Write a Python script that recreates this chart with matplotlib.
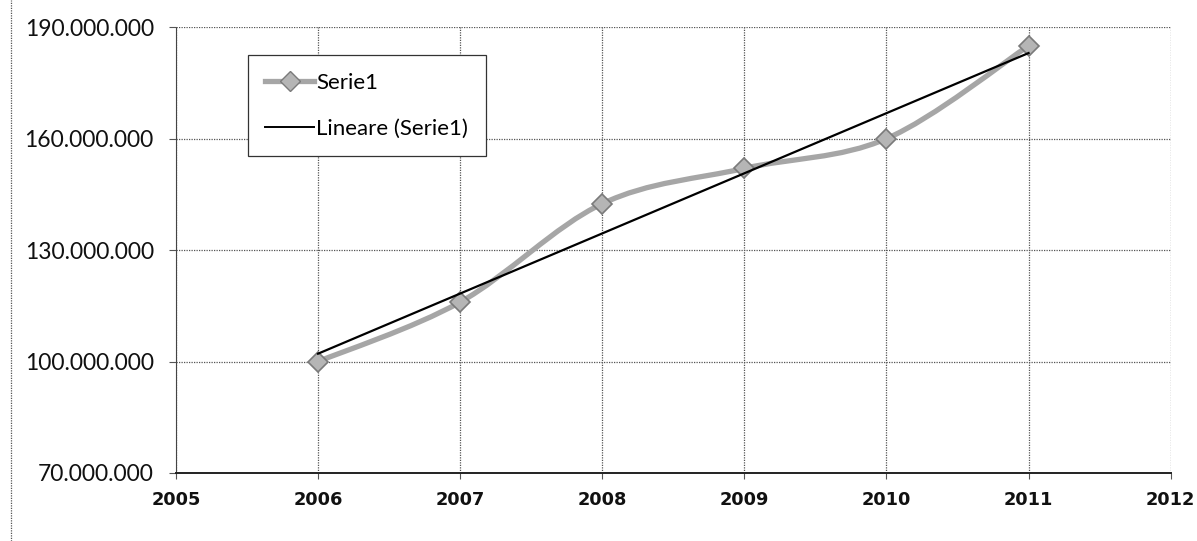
import numpy as np
import matplotlib.pyplot as plt
from matplotlib.path import Path
from matplotlib.patches import PathPatch
from matplotlib.lines import Line2D

# Series values
years = [2006, 2007, 2008, 2009, 2010, 2011]
serie1 = [100_000_000, 116_000_000, 142_500_000, 152_000_000, 160_000_000, 185_000_000]
y_ticks = [70_000_000, 100_000_000, 130_000_000, 160_000_000, 190_000_000]
x_ticks = [2005, 2006, 2007, 2008, 2009, 2010, 2011, 2012]

GRAY = '#a6a6a6'
EDGE = '#7a7a7a'


def smooth_path(xs, ys):
    # cubic Bezier segments through every point (spreadsheet-style smoothed line)
    pts = np.column_stack([xs, ys]).astype(float)
    ext = np.vstack([pts[0], pts, pts[-1]])
    verts = [tuple(pts[0])]
    codes = [Path.MOVETO]
    for i in range(len(pts) - 1):
        p0, p1, p2, p3 = ext[i], ext[i + 1], ext[i + 2], ext[i + 3]
        c1 = p1 + (p2 - p0) / 6
        c2 = p2 - (p3 - p1) / 6
        verts += [tuple(c1), tuple(c2), tuple(p2)]
        codes += [Path.CURVE4] * 3
    return Path(verts, codes)


fig = plt.figure(figsize=(11.97, 5.41), dpi=100)
ax = fig.add_axes([0.147, 0.1257, 0.831, 0.824])

# smoothed data line + diamond markers
patch = PathPatch(smooth_path(years, serie1), facecolor='none', edgecolor=GRAY,
                  lw=3.8, zorder=3, capstyle='round', joinstyle='round')
ax.add_patch(patch)
ax.plot(years, serie1, linestyle='none', marker='D', markersize=10,
        markerfacecolor='#b5b5b5', markeredgecolor=EDGE, markeredgewidth=1.2, zorder=4)

# linear trend line
slope, intercept = np.polyfit(years, serie1, 1)
trend = np.polyval([slope, intercept], years)
ax.plot(years, trend, color='black', lw=1.6, zorder=5)

ax.set_xlim(2005, 2012)
ax.set_ylim(70_000_000, 190_000_000)
ax.set_xticks(x_ticks)
ax.set_yticks(y_ticks)
ax.set_yticklabels([f'{v:,}'.replace(',', '.') for v in y_ticks],
                   fontfamily='Lato', fontsize=16.5, color='#111111')
ax.set_xticklabels([str(x) for x in x_ticks], fontfamily='DejaVu Sans',
                   fontweight='bold', fontsize=12.8, color='#111111')
ax.tick_params(axis='y', length=5, width=0.8, color='#555555', pad=11)
ax.tick_params(axis='x', length=4, width=0.8, color='#555555', pad=9)

ax.grid(True, color='#555555', linestyle=(0, (1, 1)), lw=0.9)
ax.set_axisbelow(True)
for side in ['top', 'right']:
    ax.spines[side].set_visible(False)
ax.spines['left'].set_linestyle((0, (1, 1)))
ax.spines['left'].set_color('#444444')
ax.spines['bottom'].set_color('#222222')
ax.spines['bottom'].set_linewidth(1.4)

handles = [
    Line2D([], [], color=GRAY, lw=3.8, marker='D', markersize=10,
           markerfacecolor='#b5b5b5', markeredgecolor=EDGE),
    Line2D([], [], color='black', lw=1.4),
]
leg = ax.legend(handles, ['Serie1', 'Lineare (Serie1)'], loc='upper left',
                bbox_to_anchor=(0.072, 0.937), prop={'family': 'Lato', 'size': 16},
                fancybox=False, framealpha=1, edgecolor='#333333',
                labelspacing=1.15, handlelength=2.2, handletextpad=0.1,
                borderpad=0.8, borderaxespad=0)
leg.get_frame().set_linewidth(0.9)

# outer frame edge on the left
fig.add_artist(Line2D([0.009, 0.009], [0, 1], transform=fig.transFigure,
                      color='#555555', lw=0.9, linestyle=(0, (1, 1))))

fig.savefig('out.png', dpi=100, facecolor='white')
